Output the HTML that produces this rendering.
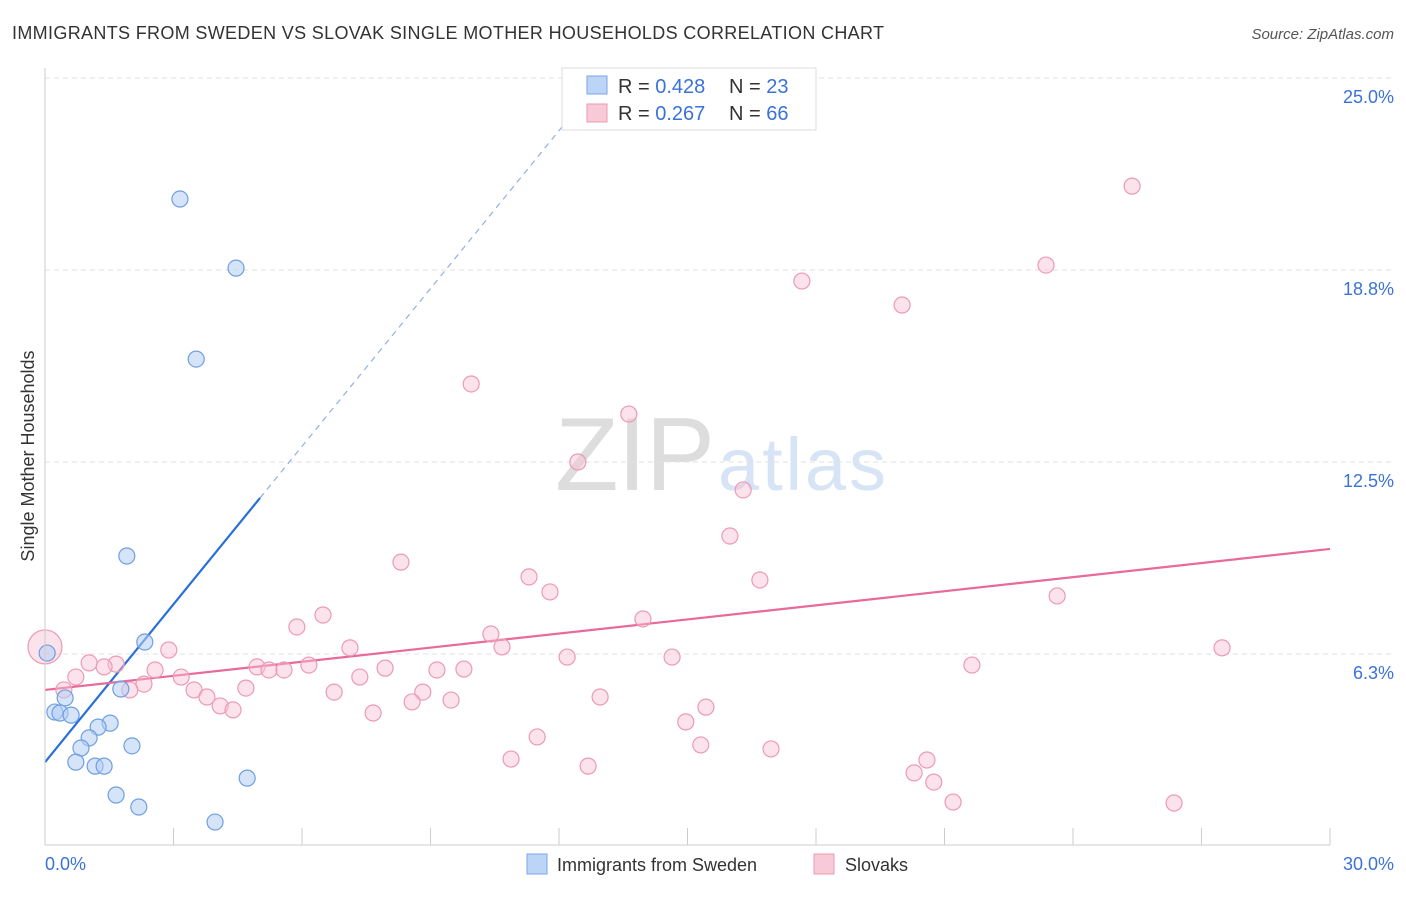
<!DOCTYPE html>
<html><head><meta charset="utf-8"><style>
body{margin:0;background:#fff;font-family:"Liberation Sans",sans-serif;}
svg text{font-family:"Liberation Sans",sans-serif;}
</style></head><body>
<svg id="chart" width="1406" height="892">
<text x="12" y="39" font-size="18" fill="#333" textLength="872">IMMIGRANTS FROM SWEDEN VS SLOVAK SINGLE MOTHER HOUSEHOLDS CORRELATION CHART</text>
<text x="1394" y="39" font-size="15" fill="#555" font-style="italic" text-anchor="end">Source: ZipAtlas.com</text>
<text x="555" y="490" font-size="104" fill="#ddd" textLength="160" font-family="Liberation Serif">ZIP</text>
<text x="718" y="490" font-size="74" fill="#d6e4f5" textLength="168">atlas</text>
<text transform="translate(34,456) rotate(-90)" font-size="18" fill="#333" text-anchor="middle">Single Mother Households</text>
<g id="grid"></g><g id="ticks"></g><g id="lines"></g><g id="pts"></g>
<line x1="45" y1="68" x2="45" y2="845" stroke="#ccc"/>
<line x1="45" y1="845" x2="1330" y2="845" stroke="#ccc"/>
<text x="45" y="870" font-size="18" fill="#3a72d8">0.0%</text>
<text x="1394" y="870" font-size="18" fill="#3a72d8" text-anchor="end">30.0%</text>
<g>
<rect x="562" y="68" width="254" height="62" fill="#fff" stroke="#ddd"/>
<rect x="587" y="76" width="20" height="18" fill="#bcd4f5" stroke="#7aa6e8"/>
<rect x="587" y="104" width="20" height="18" fill="#f8c9d6" stroke="#ee9ab2"/>
<text x="618" y="93" font-size="20" fill="#333">R = <tspan fill="#3a72d8">0.428</tspan></text>
<text x="729" y="93" font-size="20" fill="#333">N = <tspan fill="#3a72d8">23</tspan></text>
<text x="618" y="120" font-size="20" fill="#333">R = <tspan fill="#3a72d8">0.267</tspan></text>
<text x="729" y="120" font-size="20" fill="#333">N = <tspan fill="#3a72d8">66</tspan></text>
</g>
<g><rect x="527" y="854" width="20" height="20" fill="#bcd4f5" stroke="#7aa6e8"/><text x="557" y="871" font-size="18" fill="#333">Immigrants from Sweden</text></g>
<g><rect x="814" y="854" width="20" height="20" fill="#f8c9d6" stroke="#ee9ab2"/><text x="845" y="871" font-size="18" fill="#333">Slovaks</text></g>
</svg>
<script>
const yTicks=[6.25,12.5,18.75,25];
const yTickLabels=["6.3%","12.5%","18.8%","25.0%"];
const xTicks=[0,3,6,9,12,15,18,21,24,27,30];
const swedenX=[3.15,4.46,3.53,1.91,2.33,0.05,1.77,0.47,0.23,0.35,0.61,1.52,1.24,1.03,0.84,2.03,0.72,1.17,1.38,1.66,2.19,4.72,3.97];
const swedenY=[21.06,18.81,15.85,9.44,6.64,6.28,5.11,4.82,4.36,4.33,4.26,4.00,3.87,3.52,3.19,3.26,2.73,2.60,2.60,1.66,1.27,2.21,0.78];
const slovakX=[0,25.38,23.37,17.67,20.01,9.95,13.63,12.44,16.30,15.99,8.31,11.30,16.69,11.79,23.63,6.49,13.96,5.88,10.41,7.12,2.89,10.67,12.19,14.64,27.48,1.03,1.66,1.38,2.57,4.95,5.23,5.58,6.16,7.94,9.15,9.78,21.64,0.72,3.18,7.35,2.31,0.44,1.98,3.48,4.69,6.75,8.82,3.78,12.96,8.57,9.48,4.09,4.39,15.43,7.66,14.96,11.49,15.31,16.95,10.88,12.68,20.59,20.29,20.75,21.20,26.36];
const slovakY=[6.48,21.48,18.91,18.39,17.61,15.04,14.06,12.50,11.59,10.09,9.24,8.76,8.66,8.27,8.14,7.52,7.39,7.13,6.90,6.45,6.38,6.48,6.15,6.15,6.45,5.96,5.92,5.83,5.73,5.83,5.73,5.73,5.89,5.79,5.73,5.76,5.89,5.50,5.50,5.50,5.27,5.08,5.08,5.08,5.14,5.01,5.01,4.85,4.85,4.69,4.75,4.56,4.43,4.52,4.33,4.04,3.55,3.29,3.16,2.83,2.60,2.80,2.38,2.08,1.43,1.40];
const swedenTrend=[2.73,1.713];
const slovakTrend=[5.08,0.153];
const NS="http://www.w3.org/2000/svg";
const sx=v=>45+v/30*1285, sy=v=>846-v*30.72;
function mk(t,a,p){const e=document.createElementNS(NS,t);for(const k in a)e.setAttribute(k,a[k]);document.getElementById(p).appendChild(e);return e;}
yTicks.forEach((t,i)=>{
 const l=mk('line',{x1:45,x2:1394,y1:sy(t),y2:sy(t),stroke:'#e2e2e2','stroke-dasharray':'5,4'},'grid');
 
 
 const tx=mk('text',{x:1394,y:sy(t)+25,'font-size':18,fill:'#3a72d8','text-anchor':'end'},'grid');
 tx.textContent=yTickLabels[i];
 
 
});
xTicks.forEach(t=>{
 const l=mk('line',{x1:sx(t),x2:sx(t),y1:828,y2:845,stroke:'#ccc'},'ticks');
 
 
});
const bEnd=5.02, bTop=(25-swedenTrend[0])/swedenTrend[1];
let l1=mk('line',{x1:sx(0),y1:sy(swedenTrend[0]),x2:sx(bEnd),y2:sy(swedenTrend[0]+swedenTrend[1]*bEnd),stroke:'#2a6fd8','stroke-width':2.2},'lines');


let l2=mk('line',{x1:sx(bEnd),y1:sy(swedenTrend[0]+swedenTrend[1]*bEnd),x2:sx(bTop-0.6),y2:sy(swedenTrend[0]+swedenTrend[1]*(bTop-0.6)),stroke:'#8fb2e6','stroke-width':1.2,'stroke-dasharray':'6,5'},'lines');


let l3=mk('line',{x1:sx(0),y1:sy(slovakTrend[0]),x2:sx(30),y2:sy(slovakTrend[0]+slovakTrend[1]*30),stroke:'#e8699a','stroke-width':2.2},'lines');


slovakX.forEach((x,i)=>{
 const c=mk('circle',{cx:sx(x),cy:sy(slovakY[i]),r:i===0?17:8,fill:'rgba(248,190,208,0.45)',stroke:'#ec9ab4','stroke-width':1.2},'pts');
 
 
});
swedenX.forEach((x,i)=>{
 const c=mk('circle',{cx:sx(x),cy:sy(swedenY[i]),r:8,fill:'rgba(180,206,245,0.55)',stroke:'#6f9fe0','stroke-width':1.2},'pts');
 
 
});
</script>
</body></html>
